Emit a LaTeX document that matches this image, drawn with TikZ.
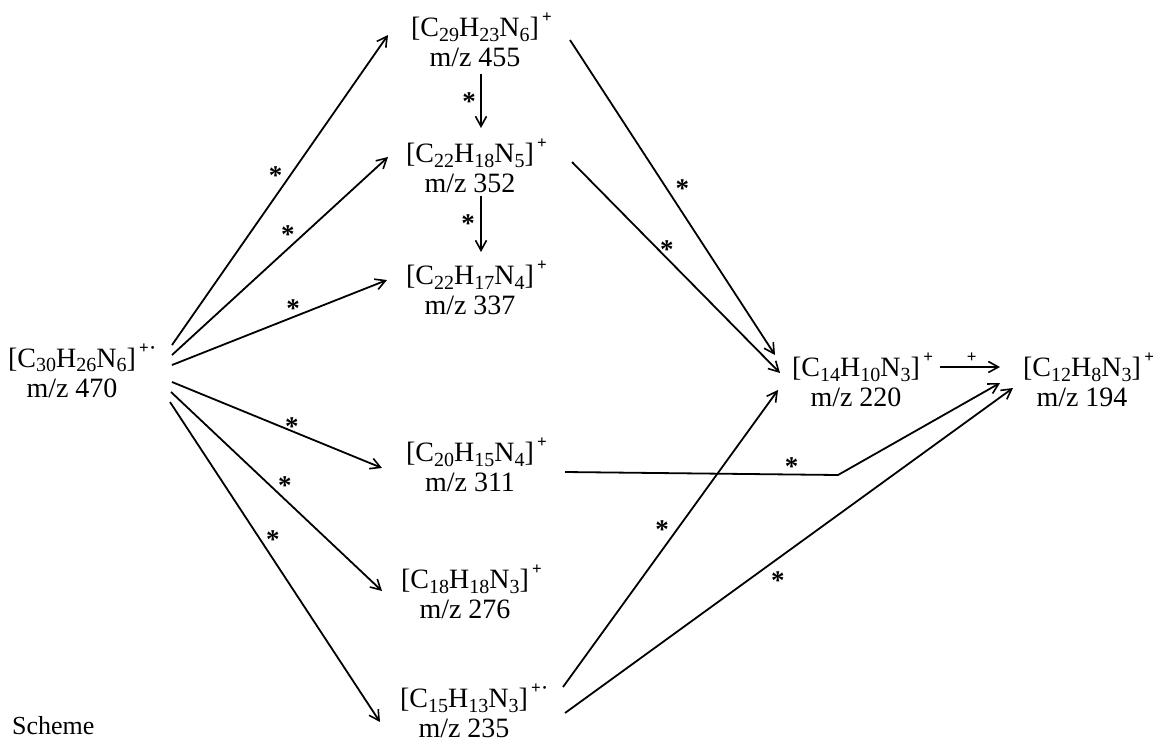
\documentclass[tikz,border=0pt]{standalone}
\usepackage{fontspec}
\setmainfont{Liberation Serif}
\usetikzlibrary{arrows.meta,calc}
\newcommand\cs[1]{\raisebox{-0.16em}{\fontsize{20}{20}\selectfont #1}}
\newcommand\chg[1]{\rlap{\hspace{0.12em}\raisebox{0.5em}{\fontsize{17}{17}\selectfont\bfseries #1}}}
\begin{document}
\begin{tikzpicture}[x=1pt,y=-1pt,
  ion/.style={align=center, inner sep=0pt, font=\fontsize{28}{30}\selectfont},
  arr/.style={-{Straight Barb[length=10pt,width=11pt,line width=1.6pt]}, line width=1.8pt},
  ast/.style={font=\fontsize{27}{27}\selectfont\bfseries, inner sep=0pt, yshift=-4pt},
  plus/.style={font=\fontsize{17}{17}\selectfont\bfseries, inner sep=0pt}]
\fill[white] (0,0) rectangle (1153,742);
\useasboundingbox (0,0) rectangle (1153,742);

\node[ion] (n470) at (72,370.5) {[C\cs{30}H\cs{26}N\cs{6}]\chg{+\kern1pt·}\\m/z 470};
\node[ion] (n455) at (475,40) {[C\cs{29}H\cs{23}N\cs{6}]\chg{+}\\m/z 455};
\node[ion] (n352) at (470,166) {[C\cs{22}H\cs{18}N\cs{5}]\chg{+}\\m/z 352};
\node[ion] (n337) at (470,288) {[C\cs{22}H\cs{17}N\cs{4}]\chg{+}\\m/z 337};
\node[ion] (n311) at (470,465) {[C\cs{20}H\cs{15}N\cs{4}]\chg{+}\\m/z 311};
\node[ion] (n276) at (465,592) {[C\cs{18}H\cs{18}N\cs{3}]\chg{+}\\m/z 276};
\node[ion] (n235) at (464,711) {[C\cs{15}H\cs{13}N\cs{3}]\chg{+\kern1pt·}\\m/z 235};
\node[ion] (n220) at (856,380) {[C\cs{14}H\cs{10}N\cs{3}]\chg{+}\\m/z 220};
\node[ion] (n194) at (1082,380) {[C\cs{12}H\cs{8}N\cs{3}]\chg{+}\\m/z 194};
\node[anchor=base west, inner sep=0pt, font=\fontsize{26}{30}\selectfont] (scheme) at (12,734) {Scheme};

% fan from m/z 470
\draw[arr] ($(n470)+(100,-25.5)$) -- node[ast,pos=.48,yshift=25pt]{*} ($(n455)+(-87,-5)$);
\draw[arr] ($(n470)+(100,-15.5)$) -- node[ast,pos=.537,yshift=18pt]{*} ($(n352)+(-82,-9)$);
\draw[arr] ($(n470)+(100,-5.5)$) -- node[ast,pos=.563,yshift=13pt]{*} ($(n337)+(-83,-8)$);
\draw[arr] ($(n470)+(100,11.5)$) -- node[ast,pos=.571,yshift=9pt]{*} ($(n311)+(-88,3)$);
\draw[arr] ($(n470)+(99,21.5)$) -- node[ast,pos=.54,yshift=18pt]{*} ($(n276)+(-83,-1)$);
\draw[arr] ($(n470)+(98,31.5)$) -- node[ast,pos=.49,yshift=23pt]{*} ($(n235)+(-84,11)$);

% vertical
\draw[arr] ($(n455)+(6,34)$) -- node[ast,pos=.43,xshift=-12pt]{*} ($(n352)+(11,-38)$);
\draw[arr] ($(n352)+(11,30)$) -- node[ast,pos=.43,xshift=-13pt]{*} ($(n337)+(11,-36)$);

% to m/z 220
\draw[arr] ($(n455)+(95,0)$) -- node[ast,pos=.46,xshift=18pt]{*} ($(n220)+(-81,-25)$);
\draw[arr] ($(n352)+(102,-4)$) -- node[ast,pos=.398,xshift=12pt]{*} ($(n220)+(-76,-7)$);
\draw[arr] ($(n235)+(99,-24)$) -- node[ast,pos=.545,xshift=-18pt]{*} ($(n220)+(-78,10)$);

% to m/z 194
\draw[arr] ($(n235)+(101,2)$) -- node[ast,pos=.475,yshift=-18pt]{*} ($(n194)+(-69,8)$);
\coordinate (bend) at ($(n311)+(368,10)$);
\draw[arr] ($(n311)+(95,7)$) -- node[ast,pos=.83,yshift=12pt]{*} (bend) -- ($(n194)+(-82,3)$);
\draw[arr] ($(n220)+(84,-13)$) -- node[plus,pos=.53,yshift=9pt]{+} ($(n194)+(-82,-13)$);
\end{tikzpicture}
\end{document}
